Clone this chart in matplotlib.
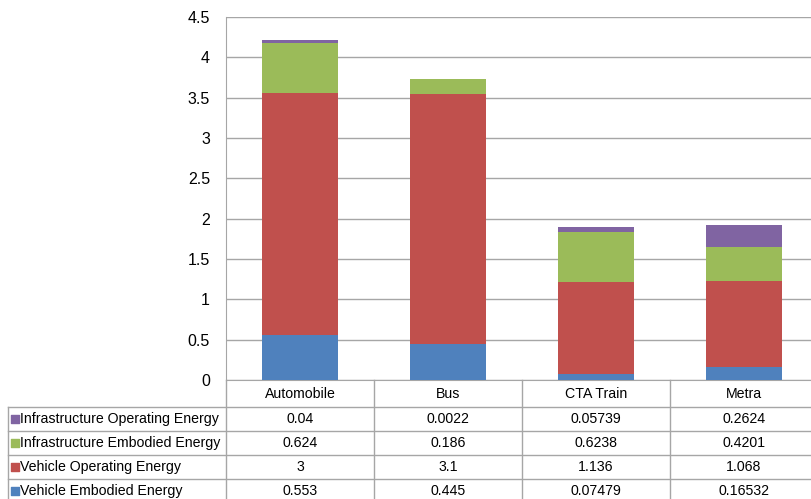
import numpy as np
import matplotlib.pyplot as plt
from matplotlib.transforms import blended_transform_factory

plt.rcParams['font.family'] = ['Liberation Sans', 'DejaVu Sans']

categories = ['Automobile', 'Bus', 'CTA Train', 'Metra']
vehicle_embodied = [0.553, 0.445, 0.07479, 0.16532]
vehicle_operating = [3, 3.1, 1.136, 1.068]
infra_embodied = [0.624, 0.186, 0.6238, 0.4201]
infra_operating = [0.04, 0.0022, 0.05739, 0.2624]
value_labels = [['0.04', '0.0022', '0.05739', '0.2624'],
                ['0.624', '0.186', '0.6238', '0.4201'],
                ['3', '3.1', '1.136', '1.068'],
                ['0.553', '0.445', '0.07479', '0.16532']]

series = ['Infrastructure Operating Energy', 'Infrastructure Embodied Energy',
          'Vehicle Operating Energy', 'Vehicle Embodied Energy']
colors = ['#8064A2', '#9BBB59', '#C0504D', '#4F81BD']
grid_col = '#A6A6A6'
fs = 10.2

W, H = 812, 499
fig = plt.figure(figsize=(W / 100, H / 100), dpi=100)
# plot area in pixels: x 226 -> 818 (cut by figure edge), y 17 -> 380
ax = fig.add_axes([226 / W, (H - 380) / H, (818 - 226) / W, 363 / H])

x = np.arange(len(categories))
bottom = np.zeros(len(categories))
stack = [vehicle_embodied, vehicle_operating, infra_embodied, infra_operating]
stack_colors = colors[::-1]
for vals, c in zip(stack, stack_colors):
    ax.bar(x, vals, 0.51, bottom=bottom, color=c, zorder=3)
    bottom += np.array(vals)

ax.set_xlim(-0.5, 3.5)
ax.set_ylim(0, 4.5)
ax.set_yticks(np.arange(0, 4.51, 0.5))
ax.set_yticklabels(['0', '0.5', '1', '1.5', '2', '2.5', '3', '3.5', '4', '4.5'])
ax.tick_params(axis='y', length=0, pad=11.5, labelsize=11.5)
ax.set_xticks([])
ax.grid(axis='y', color=grid_col, lw=1, zorder=0)
for s in ['top', 'right']:
    ax.spines[s].set_visible(False)
for s in ['left', 'bottom']:
    ax.spines[s].set_color(grid_col)

# data table below the chart
ppx = 363.0  # axes height in px
def ay(ypx):
    return (380 - ypx) / ppx

tr = blended_transform_factory(ax.transData, ax.transAxes)
tra = ax.transAxes
row_lines = [407, 431, 455, 479, 503]
left_ax = (8 - 226) / (818 - 226)

for xb in np.arange(-0.5, 4.0, 1.0):
    ax.plot([xb, xb], [0, ay(503)], transform=tr, color=grid_col, lw=1, clip_on=False)
ax.plot([left_ax, left_ax], [ay(407), ay(503)], transform=tra, color=grid_col, lw=1, clip_on=False)
for yl in row_lines:
    ax.plot([left_ax, 1], [ay(yl), ay(yl)], transform=tra, color=grid_col, lw=1, clip_on=False)

for i, cat in enumerate(categories):
    ax.text(i, ay(393.5), cat, transform=tr, ha='center', va='center', fontsize=fs, clip_on=False)

for r, (name, c) in enumerate(zip(series, colors)):
    yc = ay(419 + 24 * r)
    ax.scatter([(14.5 - 226) / 592], [yc], marker='s', s=30, color=c,
               transform=tra, clip_on=False, zorder=5)
    ax.text((19.5 - 226) / 592, yc, name, transform=tra, ha='left', va='center',
            fontsize=fs, clip_on=False)
    for i in range(len(categories)):
        ax.text(i, yc, value_labels[r][i], transform=tr, ha='center', va='center',
                fontsize=fs, clip_on=False)

fig.savefig('out.png', dpi=100)
